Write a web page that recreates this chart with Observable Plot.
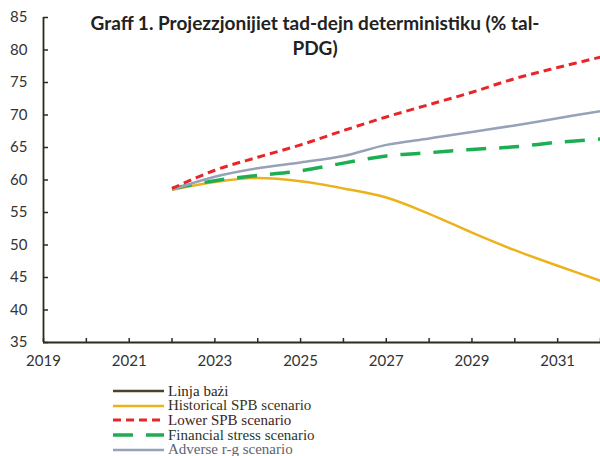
<!DOCTYPE html>
<html>
<head>
<meta charset="utf-8">
<script src="https://cdn.jsdelivr.net/npm/d3@7"></script>
<script src="https://cdn.jsdelivr.net/npm/@observablehq/plot@0.6"></script>
<style>
  html, body { margin: 0; padding: 0; background: #fff; }
  #wrap { position: relative; width: 600px; height: 456px; overflow: hidden; }
  #title { position: absolute; left: 70px; width: 490px; top: 10px; text-align: center;
    font-family: Lato, "Open Sans", sans-serif; font-weight: bold; font-size: 19px; line-height: 25px; color: #222; }
  #legend { position: absolute; left: 113px; top: 384px; font-family: "Liberation Serif", serif; font-size: 15px; }
  .row { display: flex; align-items: center; height: 14.6px; }
  .row svg { margin-right: 4px; }
</style>
</head>
<body>
<div id="wrap">
  <div id="chart"></div>
  <div id="title">Graff 1. Projezzjonijiet tad-dejn deterministiku (% tal-<br>PDG)</div>
  <div id="legend"></div>
</div>
<script>
// ---- data ----
const years = [2022, 2023, 2024, 2025, 2026, 2027, 2028, 2029, 2030, 2031, 2032];
const seriesNames = ["Linja bażi", "Historical SPB scenario", "Lower SPB scenario", "Financial stress scenario", "Adverse r-g scenario"];
const baseline = []; // not visible in the reference (hidden under other series)
const historicalSPB = [58.5, 59.7, 60.3, 59.8, 58.7, 57.3, 54.8, 51.9, 49.2, 46.8, 44.5];
const lowerSPB = [58.7, 61.5, 63.5, 65.4, 67.6, 69.7, 71.6, 73.5, 75.6, 77.3, 78.9];
const financialStress = [58.7, 59.9, 60.7, 61.4, 62.6, 63.7, 64.2, 64.7, 65.1, 65.8, 66.3];
const adverseRG = [58.5, 60.5, 61.8, 62.7, 63.7, 65.4, 66.4, 67.4, 68.4, 69.5, 70.6];
const yTicks = [35, 40, 45, 50, 55, 60, 65, 70, 75, 80, 85];
const xTicks = [2019, 2020, 2021, 2022, 2023, 2024, 2025, 2026, 2027, 2028, 2029, 2030, 2031, 2032];
const xLabels = [2019, 2021, 2023, 2025, 2027, 2029, 2031];

// ---- styles ----
const styles = [
  {stroke: "#4a4326", width: 2.5, dash: null, text: "#2a2818"},
  {stroke: "#ebb21c", width: 2.5, dash: null, text: "#3a3216"},
  {stroke: "#e8262a", width: 3, dash: "8,5", text: "#3e2222"},
  {stroke: "#1dae54", width: 3.5, dash: "20,13", text: "#1f3a2a"},
  {stroke: "#95a2b8", width: 2.5, dash: null, text: "#5c6470"}
];
const valueArrays = [baseline, historicalSPB, lowerSPB, financialStress, adverseRG];

const table = [];
valueArrays.forEach((arr, s) => arr.forEach((v, i) => table.push({year: years[i], value: v, series: seriesNames[s]})));

const lineMarks = seriesNames.map((name, s) =>
  Plot.line(table.filter(d => d.series === name), {
    x: "year", y: "value", curve: "catmull-rom",
    stroke: styles[s].stroke, strokeWidth: styles[s].width,
    strokeDasharray: styles[s].dash, strokeLinecap: "butt"
  })
);
// drawing order: baseline, historical, financial, adverse, lower
const order = [0, 1, 3, 4, 2];

const chart = Plot.plot({
  width: 600, height: 380,
  marginLeft: 43, marginRight: 0, marginTop: 17, marginBottom: 38,
  x: {domain: [2019, 2032], label: null},
  y: {domain: [35, 85], label: null},
  style: {fontFamily: "Lato, 'Open Sans', sans-serif", fontSize: "15px", color: "#333", background: "#fff", overflow: "visible"},
  marks: [
    ...order.map(i => lineMarks[i]),
    Plot.ruleY([35], {stroke: "#2b2b1f", strokeWidth: 1.8}),
    Plot.ruleX([2019], {stroke: "#2b2b1f", strokeWidth: 1.8}),
    Plot.axisY({ticks: yTicks, tickSize: -5, tickPadding: 21, tickFormat: d => String(d), label: null, stroke: "#2b2b1f", strokeWidth: 1.5, fontSize: 15, fill: "#333"}),
    Plot.axisX({ticks: xTicks, tickSize: -4, tickPadding: 17, tickFormat: d => xLabels.includes(d) ? String(d) : "", label: null, stroke: "#2b2b1f", strokeWidth: 1.5, fontSize: 15, fill: "#333"})
  ]
});
document.getElementById("chart").appendChild(chart);

// ---- legend ----
const legend = document.getElementById("legend");
seriesNames.forEach((name, s) => {
  const row = document.createElement("div");
  row.className = "row";
  const st = styles[s];
  row.innerHTML = `<svg width="51" height="6"><line x1="0" x2="51" y1="3" y2="3" stroke="${st.stroke}" stroke-width="${st.width}" ${st.dash ? `stroke-dasharray="${st.dash}"` : ""}/></svg><span style="color:${st.text}">${name}</span>`;
  legend.appendChild(row);
});
</script>
</body>
</html>
